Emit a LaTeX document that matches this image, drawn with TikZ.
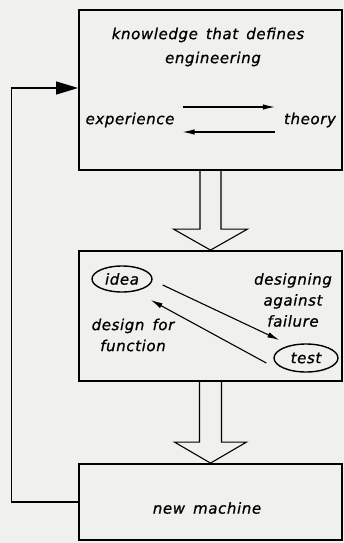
\documentclass[tikz,border=0pt]{standalone}
\usepackage{fontspec}
\newfontfamily\lett[LetterSpace=4,WordSpace=1.5,FakeBold=0.8]{DejaVu Sans}
\usetikzlibrary{arrows.meta,calc,shapes.geometric}
\definecolor{bg}{RGB}{240,240,238}
\begin{document}
\begin{tikzpicture}[x=1pt,y=-1pt,
  box/.style={draw, line width=1.8pt, inner sep=0pt},
  lbl/.style={font=\lett\itshape\fontsize{15}{21}\selectfont, inner sep=0pt},
  oval/.style={ellipse, draw, line width=1.4pt, inner sep=0pt, font=\lett\itshape\fontsize{15}{21}\selectfont},
  hollow/.style={draw, line width=1.1pt, line join=miter},
  thinarr/.style={line width=1.1pt, -{Latex[length=12pt,width=5.5pt]}},
  fb/.style={line width=1.2pt, -{Triangle[length=22pt,width=13pt]}}
]
\fill[bg] (0,0) rectangle (344,543);
\useasboundingbox (0,0) rectangle (344,543);

\node[box, minimum width=263pt, minimum height=160pt] (kbox) at (210.5,90) {};
\node[box, minimum width=263pt, minimum height=130pt] (mbox) at (210.5,316) {};
\node[box, minimum width=263pt, minimum height=76pt] (nbox) at (210.5,502) {};

\node[lbl] (k1) at (208,35) {knowledge that defines};
\node[lbl] (k2) at (213,59) {engineering};
\node[lbl] (exp) at (130,120) {experience};
\node[lbl] (th) at (310,120) {theory};
\draw[thinarr] ($(exp.east)+(8,-13)$) -- ($(th.west)+(-9,-13)$);
\draw[thinarr] ($(th.west)+(-9,12)$) -- ($(exp.east)+(8,12)$);

\node[oval, minimum width=60pt, minimum height=26pt] (idea) at (122,279) {idea};
\node[oval, minimum width=64pt, minimum height=28pt] (test) at (306,358) {test};
\node[lbl, align=center] (daf) at (293,300) {designing\\against\\failure};
\node[lbl, align=center] (dff) at (133,335) {design for\\function};
\draw[thinarr] ($(idea.east)+(10,6)$) -- ($(test.west)+(6,-18)$);
\draw[thinarr] ($(test.west)+(-7,5)$) -- ($(idea.east)+(-2,21)$);

\node[lbl] (nm) at (207,508) {new machine};

\draw[hollow] ([xshift=-10.5pt]kbox.south) |- ([xshift=-37pt,yshift=21pt]mbox.north) -- (mbox.north) -- ([xshift=37pt,yshift=21pt]mbox.north) -| ([xshift=10.5pt]kbox.south);
\draw[hollow] ([xshift=-11pt]mbox.south) |- ([xshift=-36pt,yshift=21pt]nbox.north) -- (nbox.north) -- ([xshift=36pt,yshift=21pt]nbox.north) -| ([xshift=11pt]mbox.south);

\draw[fb] (nbox.west) -- ++(-67,0) |- ([yshift=2pt]kbox.west);
\end{tikzpicture}
\end{document}
